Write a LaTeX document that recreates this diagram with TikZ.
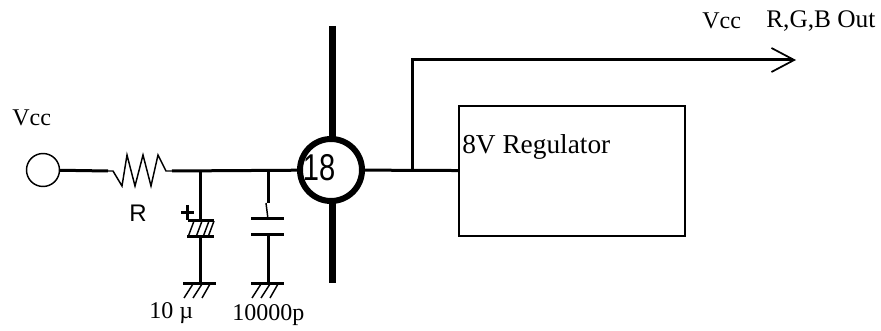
\documentclass[tikz,border=0pt]{standalone}
\usepackage{fontspec}
\setmainfont{Liberation Serif}
\setsansfont{Liberation Sans}
\usetikzlibrary{arrows.meta}
\tikzset{
  wire/.style={line width=2.25pt},
  bus/.style={line width=5.25pt},
  plate/.style={line width=2.25pt},
  hatch/.style={line width=1.1pt},
  lbl/.style={inner sep=0pt,font=\fontsize{18}{20}\selectfont},
  sflbl/.style={inner sep=0pt,font=\fontsize{18}{20}\selectfont\sffamily}
}
\begin{document}
\begin{tikzpicture}[x=0.75pt,y=-0.75pt]
\useasboundingbox (0,0) rectangle (881,331);

\node[lbl,anchor=west] (vcctop) at (702,21) {Vcc};
\node[lbl,anchor=west,font=\fontsize{19}{20}\selectfont] (rgb) at (766,21) {R,G,B Out};
\node[lbl,anchor=west] (vccin) at (12,118) {Vcc};
\node[sflbl] (rlabel) at (138,213) {R};
\node[lbl,anchor=west] (clabela) at (149,313) {10 µ};
\node[lbl,anchor=west] (clabelb) at (232,315) {10000p};

\node[draw,circle,line width=1.1pt,minimum size=24.75pt,inner sep=0pt] (vcc) at (43,170) {};
\node[draw,rectangle,line width=1.1pt,minimum width=169.5pt,minimum height=97.5pt,inner sep=0pt] (reg) at (572,171) {};
\node[lbl,anchor=west,font=\fontsize{20.5}{22}\selectfont] (regtext) at (462,147) {8V Regulator};

\coordinate (bustop) at (332,26);
\coordinate (busbot) at (332,283);
\draw[bus] (bustop) -- (busbot);
\node[draw,circle,fill=white,line width=4.5pt,minimum size=46.5pt,inner sep=0pt] (pin) at (331,170) {};
\node[sflbl,font=\fontsize{28}{30}\selectfont\sffamily] (pinno) at (319,168) {\scalebox{0.78}[1]{18}};

\coordinate (ra) at (108,171);
\coordinate (rb) at (172,171);
\coordinate (ja) at (200,171);
\coordinate (jb) at (268,171);
\coordinate (jc) at (412,171);
\coordinate (corner) at (412,60);
\coordinate (out) at (796,60);

\draw[wire] (vcc) -- (ra);
\draw[line width=1.1pt] (ra) -- (113,171) -- (122,186) -- (127,155) -- (135,186) -- (143,155) -- (151,186) -- (158,155) -- (166,171) -- (rb);
\draw[wire] (rb) -- (pin);
\draw[wire] (pin) -- (reg);
\draw[wire,-{Straight Barb[length=17pt,width=18pt,line width=1.3pt]}] (jc) -- (corner) -- (out);

\coordinate (capatop) at (200,221);
\coordinate (capabot) at (200,237);
\coordinate (gnda) at (200,283);
\draw[wire] (ja) -- (capatop);
\draw[plate] (188,221) -- (214,221);
\draw[plate] (187,237) -- (214,237);
\draw[wire] (capabot) -- (gnda);
\draw[plate] (181,213) -- (194,213);
\draw[plate] (187.5,205) -- (187.5,220);
\draw[hatch] (194,221) -- (188,237);
\draw[hatch] (202,221) -- (196,237);
\draw[hatch] (209,221) -- (203,237);
\draw[hatch] (214,221) -- (208,237);

\coordinate (capbtop) at (268,203);
\coordinate (capbbot) at (268,235);
\coordinate (gndb) at (268,283);
\draw[wire] (jb) -- (capbtop);
\draw[hatch] (266,203) -- (268,219);
\draw[plate] (251,219) -- (284,219);
\draw[plate] (251,235) -- (284,235);
\draw[wire] (capbbot) -- (gndb);

\foreach \gx in {200,268} {
  \draw[plate] (\gx-17,283.5) -- (\gx+16,283.5);
  \draw[hatch] (\gx-7,284) -- (\gx-16,298);
  \draw[hatch] (\gx+2,284) -- (\gx-7,298);
  \draw[hatch] (\gx+10,284) -- (\gx+2,298);
}
\end{tikzpicture}
\end{document}
